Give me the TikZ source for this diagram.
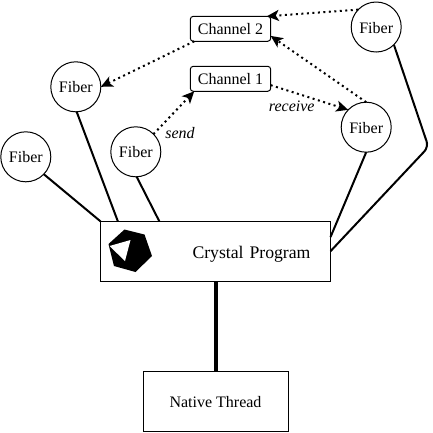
\documentclass[tikz,border=0pt]{standalone}
\usepackage{fontspec}
\setmainfont{Liberation Serif}
\usepackage{tikz}
\usetikzlibrary{arrows.meta, positioning}

\begin{document}
\begin{tikzpicture}[
    x=1pt, y=-1pt,
    every node/.style={font=\fontsize{16}{19}\selectfont, outer sep=0pt, text height=12pt, text depth=0pt},
    fiber/.style={circle, draw, line width=1pt, minimum size=50pt, inner sep=0pt},
    channel/.style={rectangle, rounded corners=3pt, draw, line width=1pt, minimum width=80.4pt, minimum height=25pt, inner sep=0pt},
    box/.style={rectangle, draw, line width=1pt, inner ysep=0pt, align=center},
    wire/.style={line width=2pt},
    flow/.style={-{Stealth[length=12pt, width=11pt, inset=3pt]}, line width=2pt, dash pattern=on 2pt off 3.5pt},
    tag/.style={font=\fontsize{16}{19}\selectfont\itshape, inner sep=0pt},
]
    \useasboundingbox (0,0) rectangle (433,432);

    % Boxes
    \node[box, minimum height=59.7pt, inner xsep=20pt, text width=190pt, align=right, text height=14pt, font=\fontsize{17.7}{21}\selectfont] (prog) at (215.5,251.2) {Crystal Program};
    \node[box, minimum width=145pt, minimum height=60.5pt, below=90pt of prog.south, anchor=north] (native) {Native Thread};

    % Channels
    \node[channel] (chan2) at (230.5,28.8) {Channel 2};
    \node[channel, below=25pt of chan2] (chan1) {Channel 1};

    % Fibers
    \node[fiber] (fibtop) at (376.2,27) {Fiber};
    \node[fiber] (fibright) at (366.2,127.2) {Fiber};
    \node[fiber] (fibsend) at (135.8,151.8) {Fiber};
    \node[fiber] (fibmid) at (75.8,86.8) {Fiber};
    \node[fiber] (fibleft) at (25.8,156.8) {Fiber};
    \coordinate (bend) at (428.5,147);

    % Logo
    \fill[black] (124.5,229.5) -- (144.5,234.5) -- (152,256) -- (135.5,272) -- (114,266) -- (108.5,244) -- cycle;
    \fill[white] (109.5,246) -- (130.5,240) -- (125,261) -- cycle;

    % Wires
    \draw[wire] (fibleft.-44.5) -- (prog.north west);
    \draw[wire] (fibmid.-88) -- (prog.163.3);
    \draw[wire] (fibsend.-88) -- (prog.152.3);
    \draw[wire] (fibright.-90) -- (prog.7.2);
    \draw[wire, rounded corners=6pt] (fibtop.-45) -- (bend) -- (prog.east);
    \draw[line width=4pt] (prog.south) -- (native.north);

    % Messages
    \draw[flow] (chan2.199.8) -- (fibmid.0);
    \draw[flow] (fibsend.45) -- (chan1.199);
    \draw[flow] (chan1.-9.6) -- (fibright.136);
    \draw[flow] (fibright.90) -- (chan2.-10);
    \draw[flow] (fibtop.136) -- (chan2.19);

    \node[tag] (send) at (180,132) {send};
    \node[tag] (receive) at (291.7,105.5) {receive};

\end{tikzpicture}
\end{document}
